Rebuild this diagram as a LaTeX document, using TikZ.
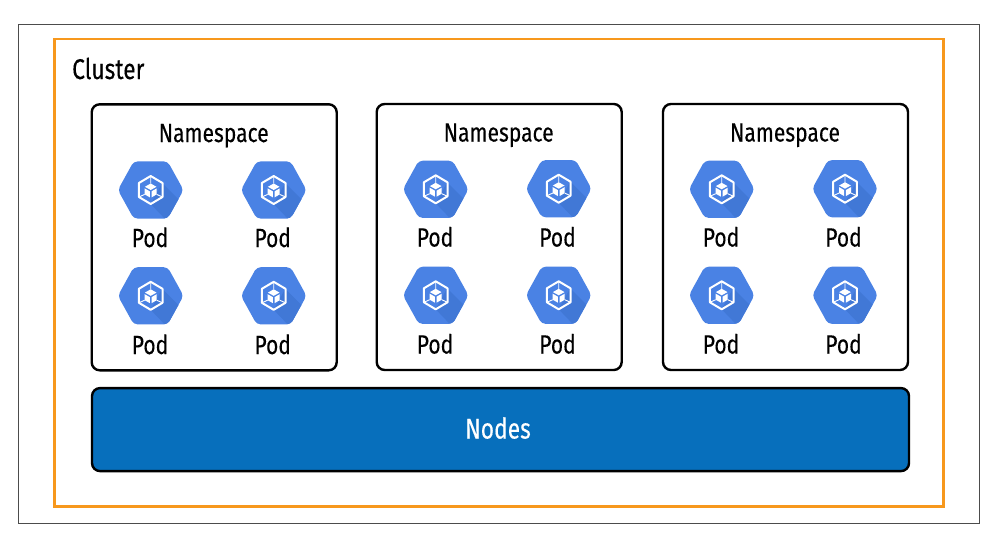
\documentclass[tikz,border=0pt]{standalone}
\usepackage{fontspec}
\setmainfont{Fira Sans}[FakeStretch=0.80,FakeBold=0.25]
\definecolor{clusterorange}{HTML}{F7981D}
\definecolor{nodesblue}{HTML}{076FBC}
\definecolor{podblue}{HTML}{4A82E4}
\definecolor{podshade}{HTML}{4178D6}
\tikzset{
  framebox/.style={draw=black!70,line width=0.9pt,minimum width=961pt,minimum height=499pt,inner sep=0pt},
  clusterbox/.style={draw=clusterorange,line width=2.6pt,minimum width=889pt,minimum height=467pt,inner sep=0pt},
  nsbox/.style={draw=black,line width=2.4pt,rounded corners=8pt,minimum width=245pt,minimum height=266pt,inner sep=0pt},
  nodesbox/.style={draw=black,fill=nodesblue,line width=2.4pt,rounded corners=8pt,minimum width=817pt,minimum height=83pt,inner sep=0pt},
  lbl/.style={font=\fontsize{26.3}{28}\selectfont,inner sep=0pt},
  biglbl/.style={font=\fontsize{28.5}{30}\selectfont,inner sep=0pt},
  pod/.pic={
    \begin{scope}
    \clip[rounded corners=4pt] (-32.8,0) -- (-17,-28.6) -- (17,-28.6) -- (32.8,0) -- (17,28.6) -- (-17,28.6) -- cycle;
    \fill[podblue] (-34,-30) rectangle (34,30);
    \fill[podshade] (11.5,-7) -- (40,21.5) -- (40,40) -- (25,40) -- (0,14) -- cycle;
    \end{scope}
    \draw[white,line width=2pt,line join=round] (0,-14) -- (11.8,-7) -- (11.8,7) -- (0,14) -- (-11.8,7) -- (-11.8,-7) -- cycle;
    \fill[white] (0,-6.5) -- (5.8,-3.2) -- (0,0) -- (-5.8,-3.2) -- cycle;
    \fill[white] (-6,-1.6) -- (-0.8,1.4) -- (-0.8,7.4) -- (-6,4.4) -- cycle;
    \fill[white] (6,-1.6) -- (0.8,1.4) -- (0.8,7.4) -- (6,4.4) -- cycle;
    \draw[white,line width=0.9pt] (0,-14) -- (0,-6.5) (-11.8,7) -- (-6,4.4) (11.8,7) -- (6,4.4);
  }
}
\begin{document}
\begin{tikzpicture}[x=1pt,y=-1pt]
\useasboundingbox (0,0) rectangle (996,535);
\fill[white] (0,0) rectangle (996,535);
% frames
\node[framebox] (frame) at (498.5,273.5) {};
\node[clusterbox] (cluster) at (499,272.7) {};
\node[biglbl,anchor=base west] (clusterlbl) at (72,79) {Cluster};
% namespaces
\node[nsbox] (ns1) at (214.2,237.3) {};
\node[nsbox] (ns2) at (499.2,237) {};
\node[nsbox] (ns3) at (785.5,237) {};
\node[lbl,anchor=base] (ns1lbl) at (213.7,142) {Namespace};
\node[lbl,anchor=base] (ns2lbl) at (498.7,141.5) {Namespace};
\node[lbl,anchor=base] (ns3lbl) at (785,141.5) {Namespace};
% pods
\pic (p11) at (150.7,190) {pod};
\pic (p12) at (273.7,190) {pod};
\pic (p13) at (150.7,295.8) {pod};
\pic (p14) at (273.7,295.8) {pod};
\pic (p21) at (435.7,189.3) {pod};
\pic (p22) at (558.7,188.7) {pod};
\pic (p23) at (435.7,295.3) {pod};
\pic (p24) at (558.7,295.3) {pod};
\pic (p31) at (721.7,189.3) {pod};
\pic (p32) at (845,188.7) {pod};
\pic (p33) at (721.7,295.3) {pod};
\pic (p34) at (845,295.3) {pod};
\node[lbl,anchor=base] (p11lbl) at (150,247) {Pod};
\node[lbl,anchor=base] (p12lbl) at (272.7,247) {Pod};
\node[lbl,anchor=base] (p13lbl) at (150,354) {Pod};
\node[lbl,anchor=base] (p14lbl) at (272.7,354) {Pod};
\node[lbl,anchor=base] (p21lbl) at (435,246.5) {Pod};
\node[lbl,anchor=base] (p22lbl) at (557.5,246.5) {Pod};
\node[lbl,anchor=base] (p23lbl) at (435,353.5) {Pod};
\node[lbl,anchor=base] (p24lbl) at (557.5,353.5) {Pod};
\node[lbl,anchor=base] (p31lbl) at (721,246.5) {Pod};
\node[lbl,anchor=base] (p32lbl) at (843.5,246.5) {Pod};
\node[lbl,anchor=base] (p33lbl) at (721,353.5) {Pod};
\node[lbl,anchor=base] (p34lbl) at (843.5,353.5) {Pod};
% nodes bar
\node[nodesbox] (nodes) at (500.5,429.6) {};
\node[biglbl,text=white] (nodeslbl) at (498,428) {Nodes};
\end{tikzpicture}
\end{document}
